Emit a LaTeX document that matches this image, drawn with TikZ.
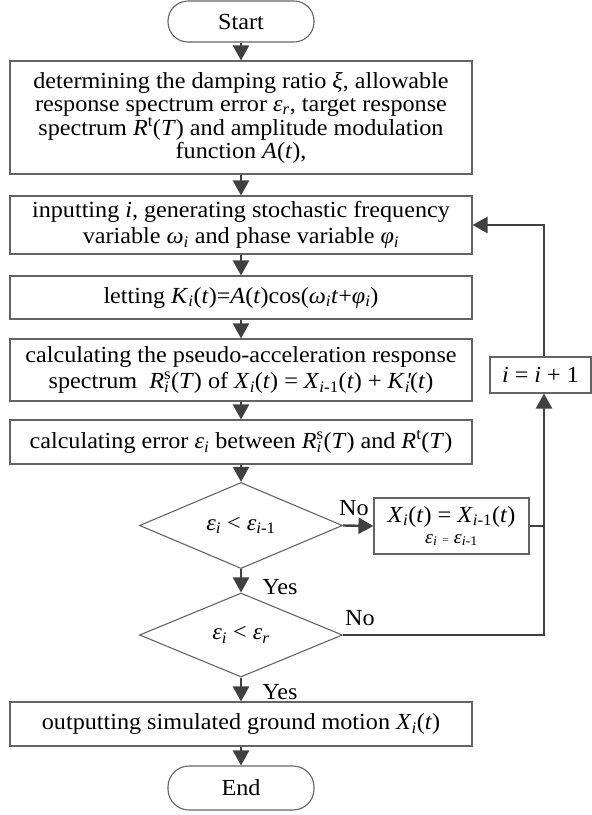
\documentclass[tikz,border=0pt]{standalone}
\usepackage{fontspec}
\setmainfont{Liberation Serif}[FakeStretch=1.05]
\usetikzlibrary{arrows.meta,shapes.geometric}
\definecolor{linegray}{HTML}{404040}
\definecolor{boxgray}{HTML}{646464}
\newcommand{\vi}[1]{\textit{#1}}
\newcommand{\sbi}[1]{\textsubscript{#1}}
\newcommand{\supsub}[2]{\setbox0\hbox{\textsuperscript{#1}}\setbox2\hbox{\textsubscript{#2}}\ifdim\wd0>\wd2 \rlap{\box2}\box0\else\rlap{\box0}\box2\fi}
\newcommand{\mainsize}{\fontsize{23}{23}\selectfont}
\newcommand{\widesize}{\fontsize{23}{26}\selectfont}
\begin{document}
\begin{tikzpicture}[x=1pt,y=-1pt,
  box/.style={draw=boxgray, line width=1.1pt, minimum width=462pt, inner sep=0pt, align=center, font=\mainsize},
  term/.style={draw=boxgray, line width=1.1pt, rounded corners=20pt, minimum width=146pt, inner sep=0pt, font=\mainsize},
  dec/.style={draw=boxgray, line width=1.1pt, diamond, minimum width=203pt, minimum height=85pt, inner sep=0pt, font=\mainsize},
  arr/.style={draw=linegray, line width=2.4pt, -{Triangle[length=15pt,width=16pt]}},
  conn/.style={draw=linegray, line width=2.4pt},
  lab/.style={font=\mainsize, inner sep=0pt}]
\useasboundingbox (0,0) rectangle (592,815);
\node[term, minimum height=41pt] (start) at (241,21.5) {Start};
\node[box, minimum height=113pt] (b1) at (241,117.5) {determining the damping ratio \vi{ξ}, allowable\\ response spectrum error \vi{ε}\sbi{\vi{r}}, target response\\ spectrum \vi{R}\textsuperscript{t}(\vi{T}) and amplitude modulation\\ function \vi{A}(\vi{t}),};
\node[box, minimum height=58pt, font=\widesize] (b2) at (241,225) {inputting \vi{i}, generating stochastic frequency\\ variable \vi{ω}\sbi{\vi{i}} and phase variable \vi{φ}\sbi{\vi{i}}};
\node[box, minimum height=43pt] (b3) at (241,297.5) {letting \vi{K}\sbi{\vi{i}}(\vi{t})=\vi{A}(\vi{t})cos(\vi{ω}\sbi{\vi{i}}\vi{t}+\vi{φ}\sbi{\vi{i}})};
\node[box, minimum height=62pt, font=\widesize] (b4) at (241,370) {calculating the pseudo-acceleration response\\ spectrum\ \ \vi{R}\supsub{s}{\vi{i}}(\vi{T}) of \vi{X}\sbi{\vi{i}}(\vi{t}) = \vi{X}\sbi{\vi{i}-1}(\vi{t}) + \vi{K}\rlap{\vi{\kern1pt\textquotesingle}}\sbi{\vi{i}}(\vi{t})};
\node[box, minimum height=44pt] (b5) at (241,442) {calculating error \vi{ε}\sbi{\vi{i}} between \vi{R}\supsub{s}{\vi{i}}(\vi{T}) and \vi{R}\textsuperscript{t}(\vi{T})};
\node[dec] (d1) at (241,525.5) {\vi{ε}\sbi{\vi{i}} < \vi{ε}\sbi{\vi{i}-1}};
\node[box, minimum width=155pt, minimum height=56pt, font=\fontsize{23}{21}\selectfont] (bx) at (451.5,526) {\vi{X}\sbi{\vi{i}}(\vi{t}) = \vi{X}\sbi{\vi{i}-1}(\vi{t})\\ {\fontsize{19}{19}\selectfont\vi{ε}\sbi{\vi{i}} {\fontsize{11}{11}\selectfont=} \vi{ε}\sbi{\vi{i}-1}}};
\node[box, minimum width=101pt, minimum height=36pt] (inc) at (540.5,375) {\vi{i} = \vi{i} + 1};
\node[dec, minimum height=84pt] (d2) at (241,635) {\vi{ε}\sbi{\vi{i}} < \vi{ε}\sbi{\vi{r}}};
\node[box, minimum height=44pt] (b6) at (241,724) {outputting simulated ground motion \vi{X}\sbi{\vi{i}}(\vi{t})};
\node[term, minimum height=44pt, rounded corners=21pt] (end) at (241,788) {End};
\coordinate (c1) at (544,225);
\coordinate (c2) at (544,635);
\draw[arr] (start) -- (b1);
\draw[arr] (b1) -- (b2);
\draw[arr] (b2) -- (b3);
\draw[arr] (b3) -- (b4);
\draw[arr] (b4) -- (b5);
\draw[arr] (b5) -- (d1);
\draw[arr] (d1) -- (d2);
\draw[arr] (d2) -- (b6);
\draw[arr] (b6) -- (end);
\draw[arr] (d1.east) -- (bx.west);
\draw[conn] (bx.east) -- (bx.east -| c1);
\draw[arr] (d2.east) -- (c2) -- (c2 |- inc.south);
\draw[arr] (c2 |- inc.north) -- (c1) -- (b2.east);
\node[lab] (no1) at (354,508) {No};
\node[lab] (yes1) at (280,587) {Yes};
\node[lab] (no2) at (360,618) {No};
\node[lab] (yes2) at (280,692) {Yes};
\end{tikzpicture}
\end{document}
